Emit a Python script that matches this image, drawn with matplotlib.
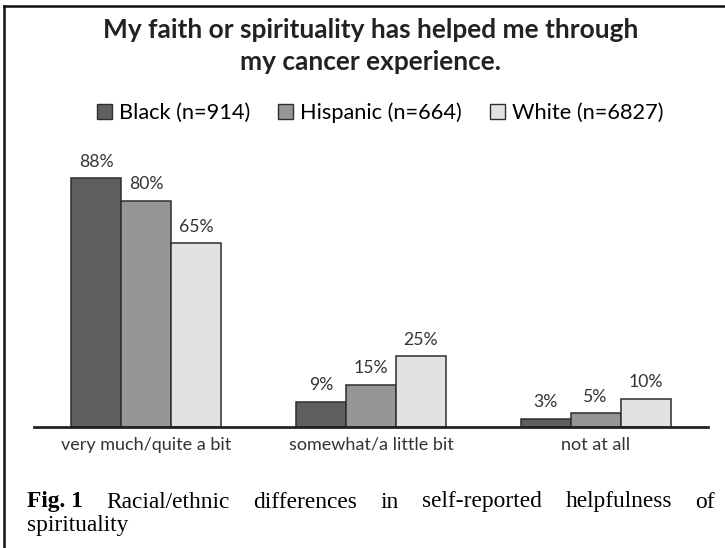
import matplotlib
matplotlib.use("Agg")
import matplotlib.pyplot as plt
from matplotlib.lines import Line2D
from matplotlib.patches import Patch
import numpy as np

# response categories and percentages per group
categories = ["very much/quite a bit", "somewhat/a little bit", "not at all"]
groups = ["Black (n=914)", "Hispanic (n=664)", "White (n=6827)"]
black = [88, 9, 3]
hispanic = [80, 15, 5]
white = [65, 25, 10]
colors = ["#5f5f5f", "#969696", "#e2e2e2"]

W, H = 725, 548
fig = plt.figure(figsize=(W / 100, H / 100), dpi=100)

def px(x0, y0, x1, y1):
    # pixel box (top-left origin) -> figure fraction rect
    return [x0 / W, 1 - y1 / H, (x1 - x0) / W, (y1 - y0) / H]

ax = fig.add_axes(px(34, 144, 708, 427))
x = np.arange(len(categories))
bw = 0.2225
for i, (vals, c, lab) in enumerate(zip([black, hispanic, white], colors, groups)):
    bars = ax.bar(x + (i - 1) * bw, vals, bw, color=c, edgecolor="#2e2e2e",
                  linewidth=1.1, label=lab, zorder=2)
    for b, v in zip(bars, vals):
        ax.annotate(f"{v}%", (b.get_x() + b.get_width() / 2, v),
                    xytext=(0, 6), textcoords="offset points",
                    ha="center", va="bottom", fontsize=12.7, family="Lato",
                    color="#333333")

ax.set_xlim(-0.5, 2.5)
ax.set_ylim(0, 100)
ax.set_yticks([])
ax.set_xticks(x)
ax.set_xticklabels(categories, fontsize=13, family="Lato", color="#333333")
ax.tick_params(axis="x", length=0, pad=7)
for s in ["top", "right", "left"]:
    ax.spines[s].set_visible(False)
ax.spines["bottom"].set_linewidth(2)
ax.spines["bottom"].set_color("#222222")
ax.spines["bottom"].set_zorder(3)

# title
for txt, ypix in [("My faith or spirituality has helped me through", 30),
                  ("my cancer experience.", 62)]:
    fig.text(371 / W, 1 - ypix / H, txt, ha="center", va="center",
             fontsize=18.9, fontweight="bold", family="Lato", color="#222222")

# legend
handles = [Patch(facecolor=c, edgecolor="#2e2e2e", linewidth=1.0) for c in colors]
fig.legend(handles, groups, loc="center", bbox_to_anchor=(380 / W, 1 - 113 / H),
           ncol=3, frameon=False, prop={"family": "Lato", "size": 15.7},
           handlelength=0.7, handleheight=0.7, handletextpad=0.3, columnspacing=1.3)

# figure frame
fig.add_artist(Line2D([4 / W, 4 / W], [0, 1 - 6 / H], color="#111111", lw=1.8,
                      transform=fig.transFigure))
fig.add_artist(Line2D([4 / W, 1], [1 - 6 / H, 1 - 6 / H], color="#111111", lw=1.8,
                      transform=fig.transFigure))

# caption, first line justified between the margins
words = ["Racial/ethnic", "differences", "in", "self-reported", "helpfulness", "of"]
fig.canvas.draw()
r = fig.canvas.get_renderer()
y1 = 1 - 502 / H
lead = fig.text(27 / W, y1, "Fig. 1", fontsize=16.8, fontweight="bold",
                family="Liberation Serif", va="center", ha="left")
arts = [lead] + [fig.text(0, y1, w, fontsize=16.8, family="Liberation Serif",
                          va="center", ha="left") for w in words]
widths = [a.get_window_extent(r).width for a in arts]
x_left, x_right = 27, 715
gap = (x_right - x_left - sum(widths)) / (len(arts) - 1)
xpos = x_left
for a, w in zip(arts, widths):
    a.set_x(xpos / W)
    xpos += w + gap
fig.text(27 / W, 1 - 525 / H, "spirituality", fontsize=16.8,
         family="Liberation Serif", va="center", ha="left")

fig.savefig("out.png", dpi=100)
